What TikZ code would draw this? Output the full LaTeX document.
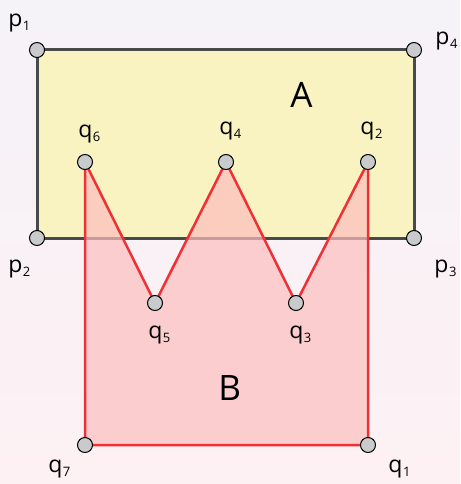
\documentclass[tikz,border=0pt]{standalone}
\usepackage{fontspec}
\usepackage{xcolor}
\usepackage{tikz}
\setmainfont{Open Sans}

\definecolor{bgtop}{RGB}{245,242,248}
\definecolor{bgbot}{RGB}{253,241,243}
\definecolor{rectfill}{RGB}{248,243,192}
\definecolor{rectline}{RGB}{72,74,74}
\definecolor{polyfill}{RGB}{253,190,190}
\definecolor{polyline}{RGB}{240,48,52}
\definecolor{dotfill}{RGB}{200,202,203}

% point label: letter with a lowered index
\newcommand{\ptlbl}[2]{#1\kern0.5pt{\fontsize{13}{13}\selectfont\raisebox{-4pt}{#2}}}

\tikzset{
    vertex/.style={circle, draw=black, line width=1pt, fill=dotfill,
        minimum size=15pt, inner sep=0pt},
    ptname/.style={anchor=base west, inner sep=0pt,
        font=\fontsize{23}{23}\selectfont},
    setname/.style={anchor=base west, inner sep=0pt,
        font=\fontsize{35}{35}\selectfont}
}

\begin{document}
\begin{tikzpicture}[x=1pt, y=-1pt, thick]

    % Background
    \shade[top color=bgtop, bottom color=bgbot] (0,0) rectangle (460,484);
    \useasboundingbox (0,0) rectangle (460,484);

    % Corners of A
    \foreach \name/\x/\y in {p1/37/50, p2/37/238, p3/414/238, p4/414/50}
    {
        \coordinate (\name) at (\x,\y);
    }

    % Corners of B
    \foreach \name/\x/\y in {
        q1/368/445,
        q2/368/162,
        q3/296/303,
        q4/226/162,
        q5/155/303,
        q6/85/162,
        q7/85/445
    }
    {
        \coordinate (\name) at (\x,\y);
    }

    % Rectangle A
    \filldraw[fill=rectfill, draw=rectline, line width=3pt]
        (p1) -- (p2) -- (p3) -- (p4) -- cycle;

    % Polygon B (on top, see-through)
    \fill[polyfill, fill opacity=0.7]
        (q1) -- (q2) -- (q3) -- (q4) -- (q5) -- (q6) -- (q7) -- cycle;
    \draw[polyline, line width=2.5pt, line join=round]
        (q1) -- (q2) -- (q3) -- (q4) -- (q5) -- (q6) -- (q7) -- cycle;

    % Vertices
    \foreach \name in {p1,p2,p3,p4,q1,q2,q3,q4,q5,q6,q7}
    {
        \node[vertex] (v\name) at (\name) {};
    }

    % Vertex labels
    \node[ptname] (lp1) at (8,27) {\ptlbl{p}{1}};
    \node[ptname] (lp4) at (435,45) {\ptlbl{p}{4}};
    \node[ptname] (lp2) at (8,272) {\ptlbl{p}{2}};
    \node[ptname] (lp3) at (434,272) {\ptlbl{p}{3}};
    \node[ptname] (lq6) at (78,137) {\ptlbl{q}{6}};
    \node[ptname] (lq4) at (219,135) {\ptlbl{q}{4}};
    \node[ptname] (lq2) at (360,135) {\ptlbl{q}{2}};
    \node[ptname] (lq5) at (148,338) {\ptlbl{q}{5}};
    \node[ptname] (lq3) at (289,338) {\ptlbl{q}{3}};
    \node[ptname] (lq7) at (48,472) {\ptlbl{q}{7}};
    \node[ptname] (lq1) at (388,472) {\ptlbl{q}{1}};

    % Set names
    \node[setname] (nameA) at (290,107) {A};
    \node[setname] (nameB) at (218,400) {B};

\end{tikzpicture}
\end{document}
